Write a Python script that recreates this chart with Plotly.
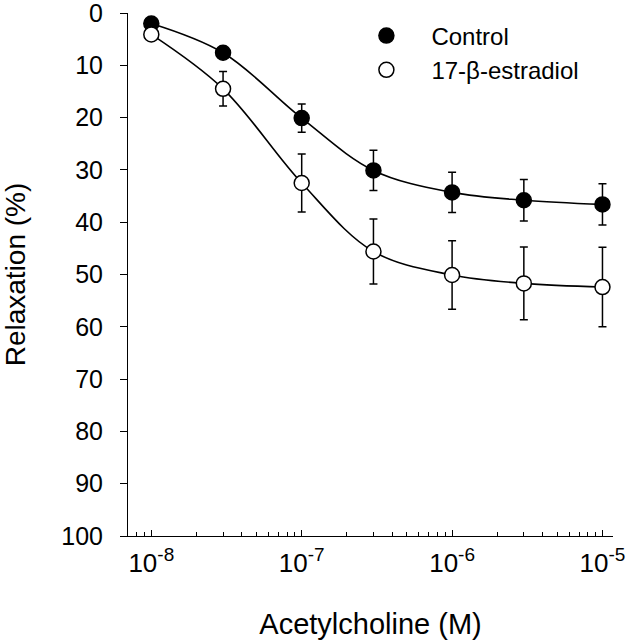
import plotly.graph_objects as go

conc = [1e-8, 3e-8, 1e-7, 3e-7, 1e-6, 3e-6, 1e-5]
control_mean = [2.0, 7.6, 20.1, 30.1, 34.3, 35.8, 36.6]
control_err = [0.8, 1.0, 2.7, 3.85, 3.85, 3.95, 3.95]
estradiol_mean = [4.1, 14.5, 32.5, 45.6, 50.1, 51.7, 52.4]
estradiol_err = [0.8, 3.3, 5.55, 6.2, 6.55, 6.95, 7.6]
x_tickvals = [1e-8, 1e-7, 1e-6, 1e-5]
x_exponents = ["-8", "-7", "-6", "-5"]
x_ticktext = ["10<sup><span style='font-size:19px'>%s</span></sup>" % e for e in x_exponents]
minor_vals = [m * 10.0 ** e for e in range(-9, -4) for m in range(2, 10)]
y_tickvals = list(range(0, 101, 10))

FONT = "Liberation Sans, Arial, sans-serif"

fig = go.Figure()

# fitted curves (smooth spline through the means)
for ys in (control_mean, estradiol_mean):
    fig.add_trace(go.Scatter(
        x=conc, y=ys, mode="lines", line=dict(color="black", width=1.6, shape="spline", smoothing=1.0),
        showlegend=False, hoverinfo="skip"))

fig.add_trace(go.Scatter(
    x=conc, y=control_mean, mode="markers", name="Control",
    marker=dict(symbol="circle", size=15, color="black", line=dict(color="black", width=1.5)),
    error_y=dict(type="data", array=control_err, visible=True, color="black", thickness=1.5, width=4)))

fig.add_trace(go.Scatter(
    x=conc, y=estradiol_mean, mode="markers", name="17-β-estradiol",
    marker=dict(symbol="circle", size=15, color="white", line=dict(color="black", width=1.5)),
    error_y=dict(type="data", array=estradiol_err, visible=True, color="black", thickness=1.5, width=4)))

fig.update_layout(
    width=629, height=640,
    margin=dict(l=128, r=16, t=13, b=104),
    paper_bgcolor="white", plot_bgcolor="white",
    font=dict(family=FONT, color="black", size=24),
    legend=dict(x=0.440, y=0.999, xanchor="left", yanchor="top", bgcolor="rgba(0,0,0,0)",
                font=dict(size=24), itemwidth=80, tracegroupgap=0),
    xaxis=dict(
        type="log", range=[-8.155, -4.93], automargin=False,
        tickvals=x_tickvals, ticktext=x_ticktext, ticklabeloverflow="allow",
        ticks="inside", ticklen=6, tickwidth=1, tickcolor="black",
        minor=dict(tickvals=minor_vals, ticks="inside", ticklen=4, tickcolor="black", showgrid=False),
        showline=True, linecolor="black", linewidth=1, showgrid=False, zeroline=False,
        tickfont=dict(size=26), ticklabelstandoff=4,
        title=dict(text="Acetylcholine (M)", font=dict(size=29), standoff=36)),
    yaxis=dict(
        range=[100, 0], tickvals=y_tickvals, automargin=False, ticklabeloverflow="allow",
        ticks="outside", ticklen=7, tickwidth=1, tickcolor="black",
        showline=True, linecolor="black", linewidth=1, showgrid=False, zeroline=False,
        tickfont=dict(size=25), ticklabelstandoff=12,
        title=dict(text="Relaxation (%)", font=dict(size=28), standoff=29)),
)

fig.write_html("out.html", config={"displayModeBar": False},
               post_script="document.body.style.margin='0';document.body.style.overflow='hidden';")
